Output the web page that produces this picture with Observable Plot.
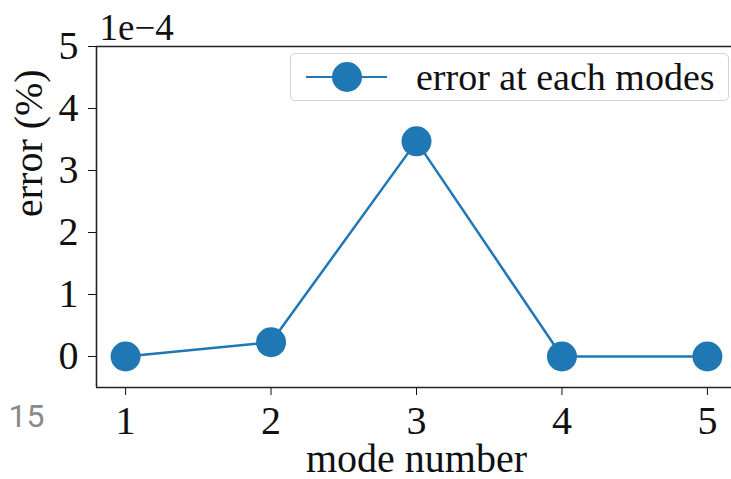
<!DOCTYPE html>
<html>
<head>
<meta charset="utf-8">
<script src="https://cdn.jsdelivr.net/npm/d3@7"></script>
<script src="https://cdn.jsdelivr.net/npm/@observablehq/plot@0.6"></script>
<style>
  html, body { margin: 0; padding: 0; background: white; overflow: hidden; }
  #wrap { position: relative; width: 731px; height: 479px; }
  #legend { position: absolute; left: 290px; top: 53px; width: 437px; height: 46px;
    border: 1px solid #d2d2d2; border-radius: 5px; background: rgba(255,255,255,0.8); }
  #legend .ln { position: absolute; left: 15px; top: 21.75px; width: 81px; height: 2.5px; background: #1f77b4; }
  #legend .mk { position: absolute; left: 40.7px; top: 8px; width: 30px; height: 30px; border-radius: 50%; background: #1f77b4; }
  #legend .tx { position: absolute; left: 125px; top: 4px; font: 38px/38px "Liberation Serif", "Times New Roman", serif; color: #111; white-space: nowrap; }
</style>
</head>
<body>
<div id="wrap"></div>
<script>
const modes = [1, 2, 3, 4, 5];
const errors = [0, 0.23, 3.47, 0, 0];
const xTicks = [1, 2, 3, 4, 5];
const yTicks = [0, 1, 2, 3, 4, 5];
const xDomain = [0.8, 5.2];
const yDomain = [-0.5, 5];
const seriesName = "error at each modes";
const xLabel = "mode number";
const yLabel = "error (%)";
const offsetLabel = "1e\u22124";
const pageNumber = "15";

const data = modes.map((m, i) => ({mode: m, error: errors[i]}));
const blue = "#1f77b4";

const chart = Plot.plot({
  width: 731,
  height: 479,
  marginLeft: 96,
  marginRight: 0,
  marginTop: 46,
  marginBottom: 92,
  style: {fontFamily: "'Liberation Serif', 'Times New Roman', serif", fontSize: "40px", color: "#111", background: "white"},
  x: {domain: xDomain, range: [96, 736], ticks: xTicks, tickSize: 8, tickPadding: 10, label: null, tickFormat: d => String(d)},
  y: {domain: yDomain, range: [387, 46], ticks: yTicks, tickSize: 8, tickPadding: 10, label: null, tickFormat: d => String(d)},
  marks: [
    Plot.ruleY([yDomain[0], yDomain[1]], {x1: xDomain[0], x2: xDomain[1], stroke: "#222", strokeWidth: 1.6}),
    Plot.ruleX([xDomain[0]], {y1: yDomain[0], y2: yDomain[1], stroke: "#222", strokeWidth: 1.6}),
    Plot.line(data, {x: "mode", y: "error", stroke: blue, strokeWidth: 2.5}),
    Plot.dot(data, {x: "mode", y: "error", r: 15, fill: blue, stroke: "none"}),
    Plot.text([yLabel], {frameAnchor: "left", lineAnchor: "middle", dx: -67, rotate: -90, text: d => d, fontSize: 40, fill: "#111"}),
    Plot.text([xLabel], {frameAnchor: "bottom", lineAnchor: "middle", dx: 2.5, dy: 72, text: d => d, fontSize: 40, fill: "#111"}),
    Plot.text([offsetLabel], {frameAnchor: "top-left", lineAnchor: "middle", dx: 3, dy: -18, textAnchor: "start", text: d => d, fontSize: 37, fill: "#111"}),
    Plot.text([pageNumber], {frameAnchor: "bottom-left", lineAnchor: "middle", dx: -88, dy: 29, textAnchor: "start", text: d => d, fontSize: 32, fill: "#8a8a8a", fontFamily: "Roboto, 'DejaVu Sans', sans-serif"})
  ]
});
const wrap = document.getElementById("wrap");
wrap.appendChild(chart);

const legend = document.createElement("div");
legend.id = "legend";
legend.innerHTML = '<div class="ln"></div><div class="mk"></div><div class="tx"></div>';
legend.querySelector(".tx").textContent = seriesName;
wrap.appendChild(legend);
</script>
</body>
</html>
